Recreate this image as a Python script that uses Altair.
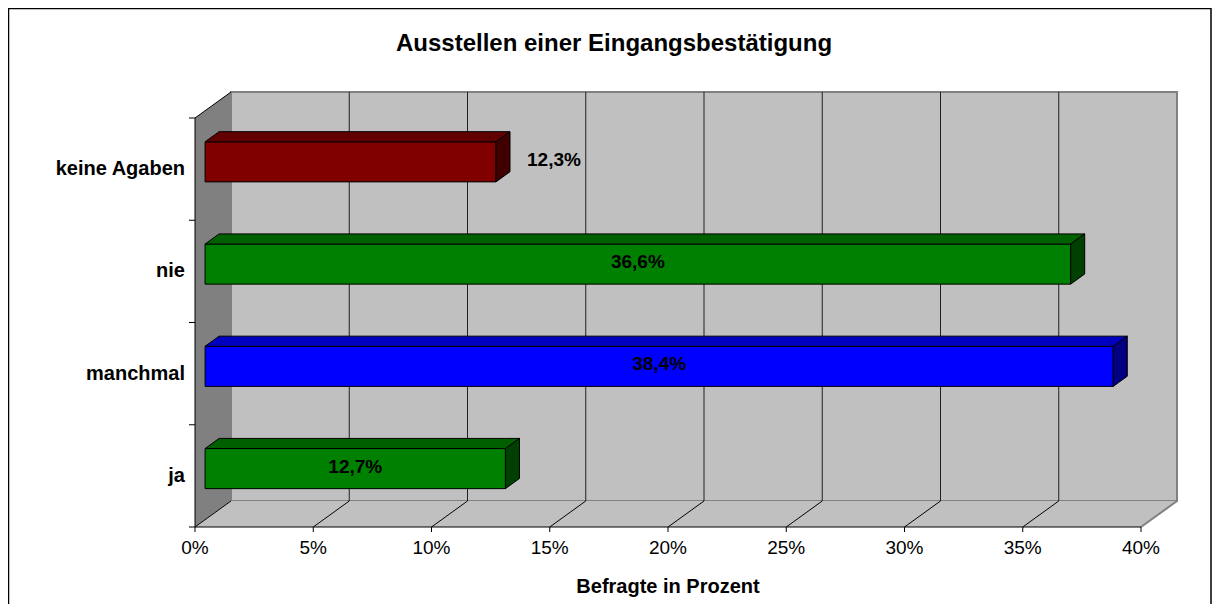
import altair as alt
import pandas as pd

# ---------------- data ----------------
categories = ["ja", "manchmal", "nie", "keine Agaben"]
values = [12.7, 38.4, 36.6, 12.3]
value_labels = ["12,7%", "38,4%", "36,6%", "12,3%"]
label_inside = [True, True, True, False]
front_colors = ["#008000", "#0000FF", "#008000", "#800000"]
top_colors = ["#006000", "#0000C0", "#006000", "#600000"]
side_colors = ["#004000", "#000080", "#004000", "#400000"]
x_ticks = [0, 5, 10, 15, 20, 25, 30, 35, 40]
x_tick_labels = ["0%", "5%", "10%", "15%", "20%", "25%", "30%", "35%", "40%"]
x_max = 40
title_text = "Ausstellen einer Eingangsbestätigung"
x_title = "Befragte in Prozent"

# ---------------- 3D geometry (style) ----------------
DX = 1.5222   # depth offset in x units (%)
DY = 0.2543   # depth offset in y units (category index)
D0, D1 = 0.28, 0.67   # bar front/back depth fraction
HH = 0.196            # half bar height
W, H = 982, 435
n = len(categories)
y_lo, y_hi = -0.5, n - 0.5

xs = alt.Scale(domain=[0, x_max + DX], nice=False, zero=False)
ys = alt.Scale(domain=[y_lo, y_hi + DY], nice=False, zero=False)

def X(f, **kw):
    return alt.X(f, scale=xs, axis=None, **kw)

def Y(f, **kw):
    return alt.Y(f, scale=ys, axis=None, **kw)

front_rows, face_rows, lab_in, lab_out = [], [], [], []
for i, (c, v) in enumerate(zip(categories, values)):
    a = D0 * DX
    b = v + a
    e = (D1 - D0) * DX
    f = (D1 - D0) * DY
    B = i - HH + D0 * DY
    T = i + HH + D0 * DY
    front_rows.append(dict(cat=c, x=a, x2=b, y=B, y2=T, fill=front_colors[i]))
    for xx, lo, up in [(a, T, T), (a + e, T, T + f), (b, T, T + f), (b + e, T + f, T + f)]:
        face_rows.append(dict(face=f"top{i}", x=xx, y=lo, y2=up, fill=top_colors[i]))
    for xx, lo, up in [(b, B, T), (b + e, B + f, T + f)]:
        face_rows.append(dict(face=f"side{i}", x=xx, y=lo, y2=up, fill=side_colors[i]))
    row = dict(label=value_labels[i], yc=(B + T) / 2)
    if label_inside[i]:
        row["x"] = (a + b) / 2
        lab_in.append(row)
    else:
        row["x"] = b + e
        lab_out.append(row)

front_df = pd.DataFrame(front_rows)
face_df = pd.DataFrame(face_rows)

wall_rows = []
for xx, lo, up in [(0, y_lo, y_hi), (DX, y_lo + DY, y_hi + DY)]:
    wall_rows.append(dict(face="left", x=xx, y=lo, y2=up, fill="#808080"))
for xx, lo, up in [(0, y_lo, y_lo), (DX, y_lo, y_lo + DY), (x_max, y_lo, y_lo + DY),
                   (x_max + DX, y_lo + DY, y_lo + DY)]:
    wall_rows.append(dict(face="floor", x=xx, y=lo, y2=up, fill="#C0C0C0"))
wall_df = pd.DataFrame(wall_rows)

back_df = pd.DataFrame([dict(x=DX, x2=x_max + DX, y=y_lo + DY, y2=y_hi + DY)])
grid_df = pd.DataFrame([dict(x=t + DX, y=y_lo + DY, y2=y_hi + DY) for t in x_ticks[1:-1]])
diag_df = pd.DataFrame([dict(x=t, x2=t + DX, y=y_lo, y2=y_lo + DY) for t in x_ticks[:-1]]
                       + [dict(x=0, x2=DX, y=y_hi, y2=y_hi + DY)])
edge_df = pd.DataFrame([dict(x=x_max, x2=x_max + DX, y=y_lo, y2=y_lo + DY)])
ytick_df = pd.DataFrame([dict(y=i - 0.5) for i in range(n + 1)])
cat_df = pd.DataFrame([dict(cat=c, y=i) for i, c in enumerate(categories)])
axis_df = pd.DataFrame([dict(x=0, x2=x_max, y=y_lo)])
vline_df = pd.DataFrame([dict(x=0, y=y_lo, y2=y_hi)])
xt_df = pd.DataFrame([dict(x=t, lab=l, y=y_lo) for t, l in zip(x_ticks, x_tick_labels)])
one = pd.DataFrame([dict(k=1)])

FONT = "Liberation Sans"

frame = alt.Chart(one).mark_rect(fill=None, stroke="black", strokeWidth=1.5).encode(
    x=alt.value(-186.5), x2=alt.value(1016), y=alt.value(-83.5), y2=alt.value(560))

back = alt.Chart(back_df).mark_rect(fill="#C0C0C0", stroke="#808080", strokeWidth=2).encode(
    x=X("x:Q"), x2="x2", y=Y("y:Q"), y2="y2")

walls = alt.Chart(wall_df).mark_area(stroke=None, opacity=1).encode(
    x=X("x:Q"), y=Y("y:Q", stack=None), y2="y2",
    color=alt.Color("fill:N", scale=None), detail="face:N")

grid = alt.Chart(grid_df).mark_rule(color="#202020", strokeWidth=1).encode(
    x=X("x:Q"), y=Y("y:Q"), y2="y2")

diag = alt.Chart(diag_df).mark_rule(color="black", strokeWidth=1).encode(
    x=X("x:Q"), x2="x2", y=Y("y:Q"), y2="y2")

edge = alt.Chart(edge_df).mark_rule(color="#808080", strokeWidth=2).encode(
    x=X("x:Q"), x2="x2", y=Y("y:Q"), y2="y2")

fronts = alt.Chart(front_df).mark_rect(stroke="black", strokeWidth=1).encode(
    x=X("x:Q"), x2="x2", y=Y("y:Q"), y2="y2",
    color=alt.Color("fill:N", scale=None))

faces = alt.Chart(face_df).mark_area(stroke="black", strokeWidth=1, opacity=1).encode(
    x=X("x:Q"), y=Y("y:Q", stack=None), y2="y2",
    color=alt.Color("fill:N", scale=None), detail="face:N")

labels_in = alt.Chart(pd.DataFrame(lab_in)).mark_text(
    font=FONT, fontSize=19, fontWeight="bold", color="black", align="center",
    baseline="middle", dy=-2).encode(x=X("x:Q"), y=Y("yc:Q"), text="label:N")

labels_out = alt.Chart(pd.DataFrame(lab_out)).mark_text(
    font=FONT, fontSize=19, fontWeight="bold", color="black", align="left",
    baseline="middle", dx=17, dy=-2).encode(x=X("x:Q"), y=Y("yc:Q"), text="label:N")

front_axis = alt.Chart(axis_df).mark_rule(color="black", strokeWidth=1).encode(
    x=X("x:Q"), x2="x2", y=Y("y:Q"))

xticks = alt.Chart(xt_df).mark_rule(color="black", strokeWidth=1).encode(
    x=X("x:Q"), y=Y("y:Q"), y2=alt.value(H + 5))

xlabels = alt.Chart(xt_df).mark_text(
    font=FONT, fontSize=19, color="black", align="center", baseline="middle").encode(
    x=X("x:Q"), y=alt.value(H + 21), text="lab:N")

vline = alt.Chart(vline_df).mark_rule(color="black", strokeWidth=1).encode(
    x=X("x:Q"), y=Y("y:Q"), y2="y2")

yticks = alt.Chart(ytick_df).mark_rule(color="black", strokeWidth=1).encode(
    x=alt.value(-6), x2=alt.value(0), y=Y("y:Q"))

ylabels = alt.Chart(cat_df).mark_text(
    font=FONT, fontSize=20, fontWeight="bold", color="black", align="right",
    baseline="middle", dx=-10).encode(x=alt.value(0), y=Y("y:Q"), text="cat:N")

title = alt.Chart(one).mark_text(
    font=FONT, fontSize=24, fontWeight="bold", color="black", align="center",
    baseline="middle").encode(x=alt.value(419), y=alt.value(-48), text=alt.value(title_text))

xtitle = alt.Chart(one).mark_text(
    font=FONT, fontSize=20, fontWeight="bold", color="black", align="center",
    baseline="middle").encode(x=alt.value(473), y=alt.value(495), text=alt.value(x_title))

chart = alt.layer(
    frame, back, walls, grid, diag, edge, fronts, faces, labels_in, labels_out,
    front_axis, xticks, xlabels, vline, yticks, ylabels, title, xtitle
).properties(
    width=W, height=H,
    autosize=alt.AutoSizeParams(type="none"),
    padding={"left": 187, "top": 84, "right": 35, "bottom": 77},
    background="white",
).configure_view(stroke=None)

chart.save("out.html", embed_options={"renderer": "svg", "actions": False})
